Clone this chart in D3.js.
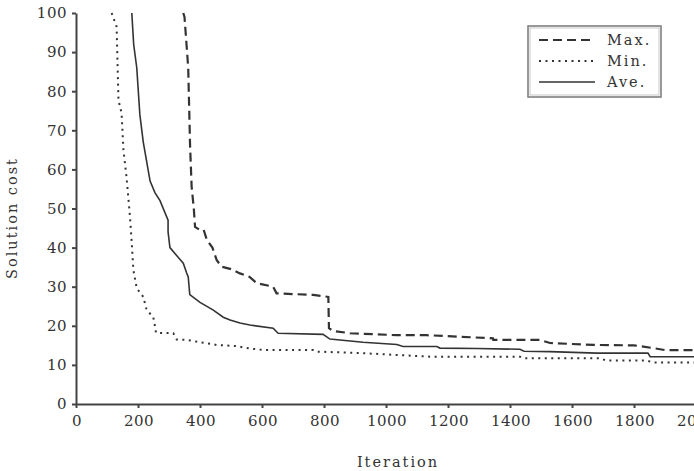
<!DOCTYPE html>
<html>
<head>
<meta charset="utf-8">
<script src="https://cdn.jsdelivr.net/npm/d3@7"></script>
<style>
  body { margin: 0; background: #fff; }
  svg { display: block; }
  .axis text { font-family: "DejaVu Serif", "Liberation Serif", serif; font-size: 15px; letter-spacing: 0.5px; fill: #333; }
  .axis path, .axis line { stroke: #444; stroke-width: 2px; }
  .label { font-family: "DejaVu Serif", "Liberation Serif", serif; font-size: 14.5px; letter-spacing: 2px; fill: #333; }
</style>
</head>
<body>
<div class="visHolder"></div>
<script>
var width = 694,
  height = 471;

// iteration, solution cost (vertices)
var maxData = [
  [346, 100], [350, 99], [362, 86], [368, 66], [373, 55.6], [380, 50], [384, 45.3], [400, 44.5],
  [412, 44.5], [422, 42], [440, 40], [454, 36.8], [470, 35.1], [500, 34.5], [529, 33.4],
  [560, 32.5], [583, 30.9], [636, 30], [647, 28.3], [765, 27.9], [814, 27.4], [816, 19.4],
  [829, 18.7], [884, 18.1], [1034, 17.6], [1131, 17.6], [1240, 17.2], [1345, 16.8], [1346, 16.4],
  [1497, 16.4], [1529, 15.6], [1669, 15.1], [1800, 15], [1862, 14.3], [1900, 13.8], [2000, 13.8]
];
var minData = [
  [115, 100], [131, 96.5], [137, 77.7], [147, 74.4], [153, 65], [163, 58], [174, 48],
  [180, 41], [185, 34.3], [196, 29.6], [217, 27.4], [228, 24], [249, 22.3], [255, 19.8],
  [258, 18.2], [314, 18.1], [325, 16.5], [357, 16.4], [400, 15.8], [454, 15.1], [518, 14.8],
  [560, 14.2], [604, 13.8], [765, 13.8], [776, 13.4], [926, 13.0], [1045, 12.5], [1142, 12.1],
  [1432, 12.1], [1443, 11.7], [1690, 11.7], [1711, 11.1], [1841, 11.1], [1862, 10.6], [2000, 10.6]
];
var aveData = [
  [180, 100], [186, 92], [196, 86], [206, 74], [217, 67], [239, 57], [255, 54], [271, 52],
  [297, 47], [297, 44], [303, 40], [335, 37], [346, 36], [357, 33.5], [362, 32.5], [367, 28],
  [400, 26], [443, 24], [475, 22.2], [497, 21.5], [529, 20.7], [561, 20.2], [636, 19.4],
  [652, 18.1], [797, 17.8], [819, 16.6], [926, 15.8], [1035, 15.2], [1055, 14.7], [1164, 14.7],
  [1174, 14.3], [1293, 14.2], [1432, 14.0], [1445, 13.5], [1529, 13.4], [1680, 13.0],
  [1845, 13.0], [1852, 12.1], [2000, 12.1]
];
var xTicks = d3.range(0, 2001, 200);
var yTicks = d3.range(0, 101, 10);
var seriesNames = ["Max.", "Min.", "Ave."];

var svg = d3.select(".visHolder").append("svg").attr("width", width).attr("height", height);

var xScale = d3.scaleLinear().domain([0, 2000]).range([76, 696]);
var yScale = d3.scaleLinear().domain([0, 100]).range([404, 13]);

var xAxis = d3.axisBottom(xScale).tickValues(xTicks).tickFormat(d3.format("d"))
  .tickSize(4).tickPadding(7).tickSizeOuter(0);
var yAxis = d3.axisLeft(yScale).tickValues(yTicks).tickFormat(d3.format("d"))
  .tickSize(4).tickPadding(6).tickSizeOuter(0);

svg.append("g").attr("class", "axis").attr("transform", "translate(0,404)").call(xAxis)
  .attr("font-family", null)
  .selectAll("text").attr("dx", "0.5px");
svg.append("g").attr("class", "axis").attr("transform", "translate(76,0)").call(yAxis)
  .attr("font-family", null)
  .selectAll("text").attr("dx", "1px");

var styles = {
  "Max.": { data: maxData, dash: "9,5", w: 2.2 },
  "Min.": { data: minData, dash: "2,4.5", w: 2 },
  "Ave.": { data: aveData, dash: null, w: 1.6 }
};

var line = d3.line()
  .x(d => xScale(d[0]))
  .y(d => yScale(d[1]));

seriesNames.forEach(function (name) {
  var s = styles[name];
  svg.append("path")
    .datum(s.data)
    .attr("fill", "none")
    .attr("stroke", "#333")
    .attr("stroke-width", s.w)
    .attr("stroke-dasharray", s.dash)
    .attr("d", line);
});

// legend
var legend = svg.append("g").attr("id", "legend");
legend.append("rect")
  .attr("x", 528).attr("y", 26).attr("width", 133).attr("height", 71)
  .attr("fill", "#fff").attr("stroke", "#777").attr("stroke-width", 1.5);
legend.append("rect")
  .attr("x", 530).attr("y", 28).attr("width", 129).attr("height", 67)
  .attr("fill", "none").attr("stroke", "#bbb").attr("stroke-width", 0.8);

var item = legend.selectAll(".legend-label")
  .data(seriesNames)
  .enter()
  .append("g")
  .attr("class", "legend-label")
  .attr("transform", (d, i) => "translate(0," + (40 + i * 21) + ")");

item.append("line")
  .attr("x1", 539).attr("x2", 595)
  .attr("stroke", "#333")
  .attr("stroke-width", d => styles[d].w)
  .attr("stroke-dasharray", d => styles[d].dash);

item.append("text")
  .attr("class", "label")
  .attr("x", 607)
  .attr("dy", "0.33em")
  .text(d => d);

svg.append("text")
  .attr("class", "label")
  .attr("transform", "rotate(-90)")
  .attr("x", -218)
  .attr("y", 17)
  .attr("text-anchor", "middle")
  .text("Solution cost");

svg.append("text")
  .attr("class", "label")
  .attr("x", 398)
  .attr("y", 467)
  .attr("text-anchor", "middle")
  .text("Iteration");
</script>
</body>
</html>
